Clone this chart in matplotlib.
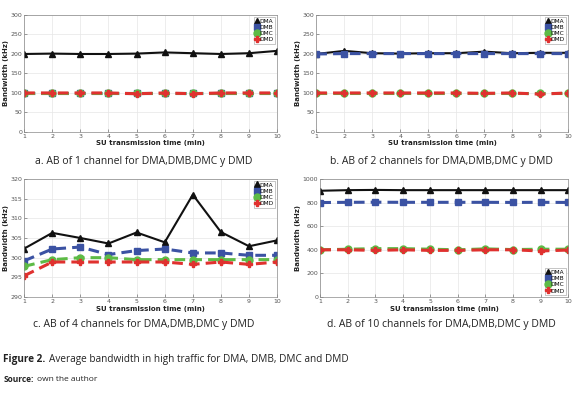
import numpy as np
import matplotlib
matplotlib.use("Agg")
import matplotlib.pyplot as plt

t = np.arange(1, 11)

# panel a: 1 channel
a_dma = [200, 201, 200, 200, 201, 204, 202, 200, 202, 208]
a_dmb = [100, 100, 100, 100, 100, 100, 100, 100, 100, 100]
a_dmc = [100, 100, 100, 100, 100, 100, 100, 100, 100, 100]
a_dmd = [100, 100, 100, 100, 98, 100, 98, 100, 100, 100]
# panel b: 2 channels
b_dma = [200, 208, 202, 201, 202, 202, 206, 202, 203, 203]
b_dmb = [200, 201, 201, 201, 201, 201, 201, 201, 201, 201]
b_dmc = [100, 100, 100, 100, 100, 100, 100, 100, 100, 100]
b_dmd = [100, 100, 100, 100, 100, 100, 99, 100, 97, 100]
# panel c: 4 channels
c_dma = [302.3, 306.3, 305.0, 303.6, 306.4, 303.9, 316.0, 306.5, 302.9, 304.4]
c_dmb = [299.2, 302.2, 302.7, 300.8, 301.8, 302.2, 301.2, 301.2, 300.6, 300.6]
c_dmc = [297.8, 299.5, 300.0, 300.0, 299.5, 299.5, 299.5, 299.5, 299.5, 299.5]
c_dmd = [295.4, 298.9, 298.9, 298.9, 298.9, 298.9, 298.3, 298.9, 298.3, 298.9]
# panel d: 10 channels
d_dma = [900, 905, 907, 905, 905, 905, 905, 905, 905, 905]
d_dmb = [800, 802, 803, 802, 802, 802, 802, 801, 802, 801]
d_dmc = [400, 405, 410, 410, 405, 400, 408, 402, 405, 405]
d_dmd = [400, 400, 395, 400, 395, 395, 400, 400, 390, 398]

labels = ["DMA", "DMB", "DMC", "DMD"]
captions = ["a. AB of 1 channel for DMA,DMB,DMC y DMD",
            "b. AB of 2 channels for DMA,DMB,DMC y DMD",
            "c. AB of 4 channels for DMA,DMB,DMC y DMD",
            "d. AB of 10 channels for DMA,DMB,DMC y DMD"]

plt.rcParams["font.family"] = ["DejaVu Sans"]
fig = plt.figure(figsize=(5.75, 3.95), dpi=100)
cap_font = ["Open Sans", "DejaVu Sans"]

# (rect, data, ylim, yticks, legend loc, caption x, caption y)
panels = [
    ([0.042, 0.666, 0.440, 0.296], (a_dma, a_dmb, a_dmc, a_dmd), (0, 300), np.arange(0, 301, 50), "upper right", 0.250, 0.590),
    ([0.550, 0.666, 0.438, 0.296], (b_dma, b_dmb, b_dmc, b_dmd), (0, 300), np.arange(0, 301, 50), "upper right", 0.768, 0.590),
    ([0.042, 0.248, 0.440, 0.299], (c_dma, c_dmb, c_dmc, c_dmd), (290, 320), np.arange(290, 321, 5), "upper right", 0.250, 0.178),
    ([0.557, 0.248, 0.431, 0.299], (d_dma, d_dmb, d_dmc, d_dmd), (0, 1000), np.arange(0, 1001, 200), "lower right", 0.768, 0.178),
]
styles = [
    dict(color="#111111", ls="-", lw=1.5, marker="^", ms=5),
    dict(color="#3b52a3", ls=(0, (3.5, 2)), lw=2.2, marker="s", ms=4.5),
    dict(color="#5dbb46", ls=(0, (3.5, 2)), lw=2.2, marker="o", ms=5),
    dict(color="#e0312f", ls=(0, (3.5, 2)), lw=2.2, marker="P", ms=4.5),
]

for i, (rect, data, ylim, yt, loc, cx, cy) in enumerate(panels):
    ax = fig.add_axes(rect)
    for ys, lab, st in zip(data, labels, styles):
        ax.plot(t, ys, label=lab, **st)
    ax.set_xlim(1, 10); ax.set_ylim(*ylim)
    ax.set_xticks(t); ax.set_yticks(yt)
    ax.grid(True, color="#e6e6e6", lw=0.5)
    ax.tick_params(direction="in", labelsize=4.5, colors="#555555", length=2, width=0.4, pad=1.5)
    for s in ax.spines.values():
        s.set_color("#888888"); s.set_linewidth(0.5)
    ax.set_xlabel("SU transmission time (min)", fontsize=5, fontweight="bold", labelpad=1, color="#222222")
    ax.set_ylabel("Bandwidth (kHz)", fontsize=5, fontweight="bold", labelpad=1, color="#222222")
    leg = ax.legend(loc=loc, fontsize=4.2, handlelength=0.6, handletextpad=0.1, borderpad=0.3,
                    labelspacing=0.2, fancybox=False, framealpha=1, edgecolor="#999999",
                    borderaxespad=0.3)
    leg.get_frame().set_linewidth(0.4)
    for h in leg.legend_handles:
        h.set_linestyle("none")
    fig.text(cx, cy, captions[i], ha="center", va="center", fontsize=7.5, color="#222222", family=cap_font)

# figure caption: bold lead-in followed by regular text
r = fig.canvas.get_renderer()
for y, bold, rest, fs in [(0.090, "Figure 2.", "Average bandwidth in high traffic for DMA, DMB, DMC and DMD", 7.2),
                          (0.038, "Source:", "own the author", 6.0)]:
    tb = fig.text(0.006, y, bold, fontsize=fs, fontweight="bold", va="center", color="#222222", family=cap_font)
    x1 = fig.transFigure.inverted().transform((tb.get_window_extent(r).x1, 0))[0]
    fig.text(x1 + 0.005, y, rest, fontsize=fs, va="center", color="#222222", family=cap_font)

fig.savefig("out.png", dpi=100)
